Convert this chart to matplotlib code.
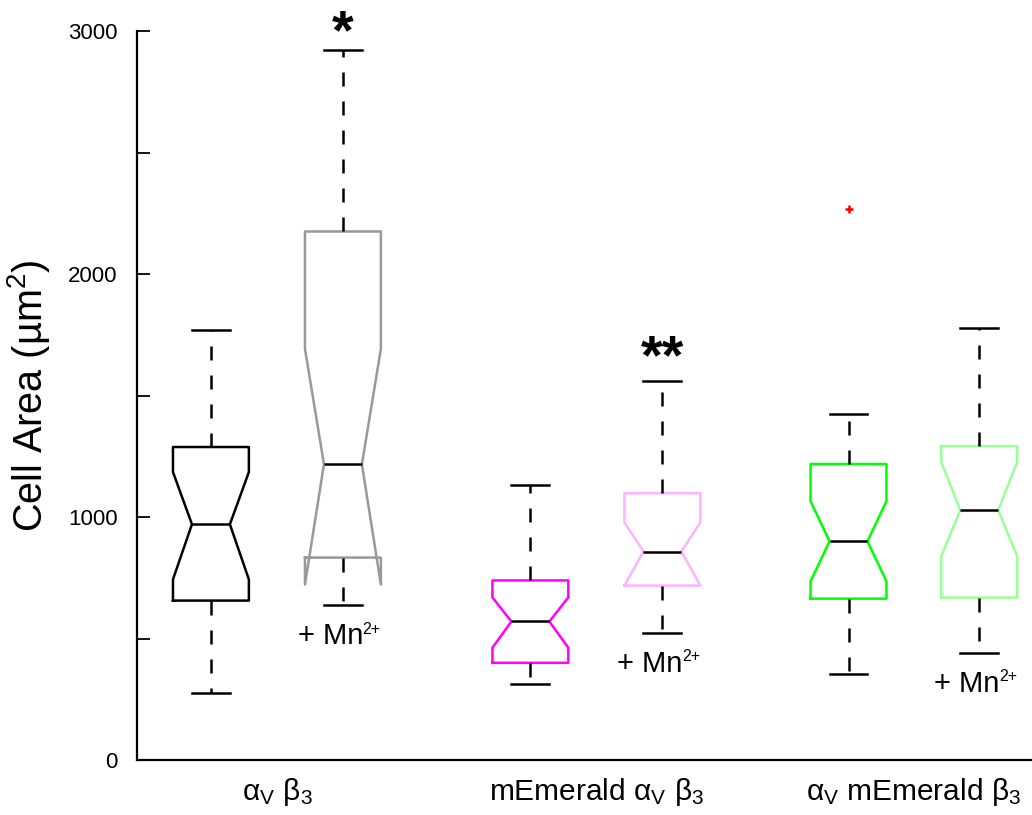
import matplotlib
matplotlib.use('Agg')
import matplotlib.pyplot as plt

plt.rcParams['font.family'] = ['Liberation Sans', 'DejaVu Sans']
plt.rcParams['mathtext.fontset'] = 'custom'
plt.rcParams['mathtext.rm'] = 'Liberation Sans'
plt.rcParams['mathtext.it'] = 'Liberation Sans'
plt.rcParams['mathtext.bf'] = 'Liberation Sans:bold'

# box positions (pairs: control / + Mn2+)
positions = [1, 2, 3.42, 4.42, 5.83, 6.82]
medians = [970, 1217, 570, 858, 900, 1028]
q1 = [656, 833, 400, 718, 664, 668]
q3 = [1288, 2175, 739, 1098, 1218, 1292]
ci_lo = [743, 722, 462, 718, 735, 838]
ci_hi = [1185, 1692, 669, 978, 1065, 1226]
whis_lo = [276, 636, 314, 524, 355, 441]
whis_hi = [1771, 2922, 1131, 1560, 1424, 1779]
outliers = [[], [], [], [], [2266], []]
box_colors = ['#000000', '#999999', '#ff00ff', '#ffb3ff', '#00ff00', '#99ff99']

group_labels = [r'α$_{\rm V}$ β$_3$',
                r'mEmerald α$_{\rm V}$ β$_3$',
                r'α$_{\rm V}$ mEmerald β$_3$']
mn_boxes = [1, 3, 5]
stars = {1: ('*', 1.5), 3: ('**', 5.3)}

stats = []
for i in range(len(positions)):
    stats.append(dict(med=medians[i], q1=q1[i], q3=q3[i], cilo=ci_lo[i], cihi=ci_hi[i],
                      whislo=whis_lo[i], whishi=whis_hi[i], fliers=outliers[i]))

fig = plt.figure(figsize=(10.32, 8.15), dpi=100)
ax = fig.add_axes([137 / 1032, 55 / 815, (1032 - 137) / 1032, (760 - 31) / 815])

lw = 1.8
bp = ax.bxp(stats, positions=positions, widths=0.575, shownotches=True,
            patch_artist=False,
            boxprops=dict(linewidth=lw),
            medianprops=dict(color='black', linewidth=lw),
            whiskerprops=dict(color='black', linewidth=lw, linestyle=(0, (5.6, 6))),
            capprops=dict(color='black', linewidth=lw),
            flierprops=dict(marker='+', markeredgecolor='red', markersize=6, markeredgewidth=1.8))
for box, c in zip(bp['boxes'], box_colors):
    box.set_color(c)

# "+ Mn2+" under the treated boxes
for i in mn_boxes:
    ax.annotate('+ Mn', xy=(positions[i], whis_lo[i]), xytext=(-9, -28),
                textcoords='offset points', ha='center', va='baseline', fontsize=21)
    ax.annotate('2+', xy=(positions[i], whis_lo[i]), xytext=(14.2, -20.2),
                textcoords='offset points', ha='left', va='baseline', fontsize=11.5)

for i, (s, dy) in stars.items():
    ax.annotate(s, xy=(positions[i], whis_hi[i]), xytext=(0, dy),
                textcoords='offset points', ha='center', va='baseline',
                fontsize=40, fontweight='bold', annotation_clip=False)

ax.set_xlim(0.44, 7.22)
ax.set_ylim(0, 3000)
ax.set_yticks([0, 500, 1000, 1500, 2000, 2500, 3000])
ax.set_yticklabels(['0', '', '1000', '', '2000', '', '3000'])
ax.tick_params(axis='y', direction='in', length=9.5, width=1.3, pad=14, labelsize=16)

mids = [(positions[0] + positions[1]) / 2, (positions[2] + positions[3]) / 2,
        (positions[4] + positions[5]) / 2]
ax.set_xticks(mids)
ax.set_xticklabels(group_labels, fontsize=21.5)
ax.tick_params(axis='x', length=0, pad=11.5)

ax.spines['top'].set_visible(False)
ax.spines['right'].set_visible(False)
ax.spines['left'].set_linewidth(1.6)
ax.spines['bottom'].set_linewidth(1.6)

ax.set_ylabel(r'Cell Area (µm$^2$)', fontsize=28.5)
ax.yaxis.set_label_coords(-0.121, 0.5)
ax.yaxis.label.set_va('center')

fig.savefig('out.png', dpi=100)
